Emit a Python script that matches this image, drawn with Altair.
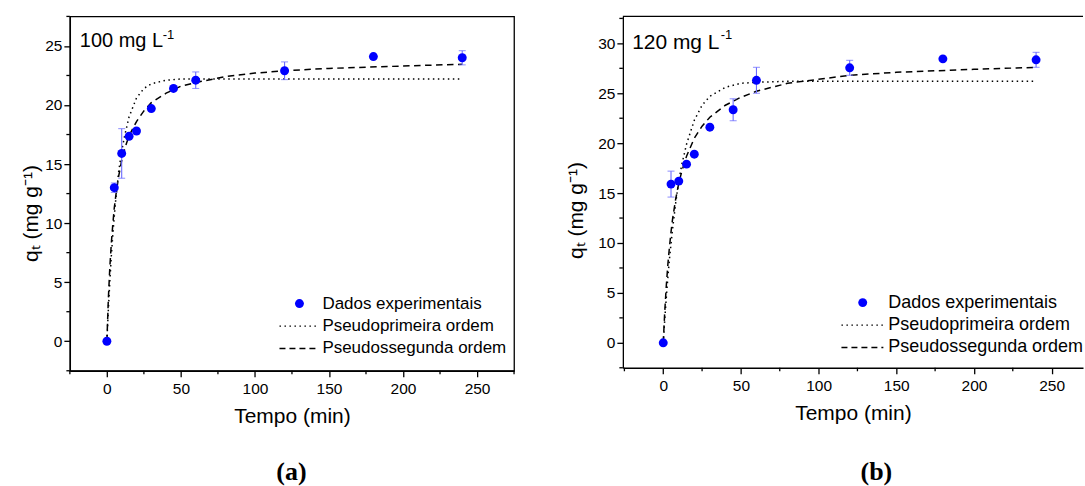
import altair as alt
import pandas as pd

FONT = "Liberation Sans"

# ---------------- data ----------------
t_exp = [0, 5, 10, 15, 20, 30, 45, 60, 120, 180, 240]
qa_exp = [0, 13.0, 15.9, 17.35, 17.8, 19.7, 21.4, 22.1, 22.9, 24.1, 24.0]
qa_err = [0, 0.4, 2.1, 0, 0, 0, 0, 0.7, 0.75, 0, 0.6]
qb_exp = [0, 15.9, 16.2, 17.9, 18.9, 21.6, 23.35, 26.3, 27.55, 28.45, 28.35]
qb_err = [0, 1.3, 0, 0, 0, 0, 1.1, 1.3, 0.75, 0, 0.75]

t_fit = [0, 1, 2, 3, 4, 5, 6, 8, 10, 12, 15, 20, 25, 30, 40, 50, 60, 80, 100, 120, 150, 200, 240]
qa_pfo = [0, 2.7, 5.1, 7.2, 9.0, 10.6, 12.0, 14.4, 16.1, 17.4, 19.0, 20.6, 21.4, 21.8, 22.1, 22.2,
          22.2, 22.2, 22.2, 22.2, 22.2, 22.2, 22.2]
qa_pso = [0, 3.6, 6.3, 8.3, 9.9, 11.3, 12.3, 14.0, 15.3, 16.3, 17.4, 18.6, 19.5, 20.2, 21.0, 21.6,
          21.9, 22.4, 22.7, 22.9, 23.1, 23.3, 23.45]
qb_pfo = [0, 2.4, 4.6, 6.6, 8.4, 9.9, 11.4, 14.0, 16.2, 17.9, 19.9, 22.3, 23.8, 24.7, 25.6, 26.0,
          26.1, 26.2, 26.2, 26.2, 26.2, 26.2, 26.2]
qb_pso = [0, 3.2, 5.8, 7.9, 9.6, 11.1, 12.4, 14.4, 16.0, 17.2, 18.7, 20.5, 21.7, 22.6, 23.8, 24.6,
          25.2, 26.0, 26.4, 26.8, 27.1, 27.4, 27.6]

# tick values
x_major = [0, 50, 100, 150, 200, 250]
x_minor = [-25, 25, 75, 125, 175, 225, 275]
ya_major = [0, 5, 10, 15, 20, 25]
ya_minor = [-2.5, 2.5, 7.5, 12.5, 17.5, 22.5, 27.5]
yb_major = [0, 5, 10, 15, 20, 25, 30]
yb_minor = [-2.5, 2.5, 7.5, 12.5, 17.5, 22.5, 27.5, 32.5]

legend_labels = ["Dados experimentais", "Pseudoprimeira ordem", "Pseudossegunda ordem"]
x_title = "Tempo (min)"
y_title = "qₜ (mg g⁻¹)"
conc_labels = ["100 mg L", "120 mg L"]
panel_letters = ["(a)", "(b)"]


def panel(q_exp, q_err, q_pfo, q_pso, xdom, ydom, ymaj, ymin, W, H, conc, letter, opts):
    df = pd.DataFrame({"t": t_exp, "q": q_exp, "e": q_err})
    df["lo"] = df["q"] - df["e"]
    df["hi"] = df["q"] + df["e"]
    dferr = df[df["e"] > 0]
    dfit = pd.DataFrame({"t": t_fit, "pfo": q_pfo, "pso": q_pso})
    dxm = pd.DataFrame({"t": [v for v in x_minor if xdom[0] <= v <= xdom[1]]})
    dym = pd.DataFrame({"q": [v for v in ymin if ydom[0] <= v <= ydom[1]]})

    xs = alt.Scale(domain=xdom, nice=False, zero=False)
    ys = alt.Scale(domain=ydom, nice=False, zero=False)
    common = dict(grid=False, domainColor="black", domainWidth=1.3, tickColor="black",
                  tickWidth=1.3, tickSize=6, labelFont=FONT, labelFontSize=15.5, labelColor="black",
                  titleFont=FONT, titleFontSize=opts["tfs"], titleFontWeight="normal",
                  titleColor="black", labelFlush=False)
    xaxis = alt.Axis(values=x_major, format="d", labelPadding=5, titlePadding=8, **common)
    yaxis = alt.Axis(values=ymaj, format="d", labelPadding=2, titleAngle=270,
                     titleX=opts["tx"], titleY=opts["ty"],
                     titleAlign="center", titleBaseline="alphabetic", **common)

    pfo = alt.Chart(dfit).mark_line(color="black", strokeWidth=1.5, strokeDash=[1.5, 3.5]).encode(
        x=alt.X("t:Q", scale=xs, axis=xaxis, title=x_title),
        y=alt.Y("pfo:Q", scale=ys, axis=yaxis, title=y_title))
    pso = alt.Chart(dfit).mark_line(color="black", strokeWidth=1.5, strokeDash=[6.5, 4.5]).encode(
        x="t:Q", y="pso:Q")
    err = alt.Chart(dferr).mark_rule(color="#6b6bff", strokeWidth=1.1).encode(
        x="t:Q", y="lo:Q", y2="hi:Q")
    cap_lo = alt.Chart(dferr).mark_tick(color="#6b6bff", orient="horizontal", size=7, thickness=1.1).encode(
        x="t:Q", y="lo:Q")
    cap_hi = alt.Chart(dferr).mark_tick(color="#6b6bff", orient="horizontal", size=7, thickness=1.1).encode(
        x="t:Q", y="hi:Q")
    pts = alt.Chart(df).mark_circle(color="#0000ff", opacity=1, size=80).encode(x="t:Q", y="q:Q")

    # minor ticks
    xmin_t = alt.Chart(dxm).mark_rule(color="black", strokeWidth=1.3).encode(
        x="t:Q", y=alt.value(H), y2=alt.value(H + 3.5))
    ymin_t = alt.Chart(dym).mark_rule(color="black", strokeWidth=1.3).encode(
        y="q:Q", x=alt.value(0), x2=alt.value(-3.5))

    base = alt.Chart(pd.DataFrame({"k": [0]}))
    lx, ly, ltx, lfs, l1, l2, dy = opts["leg"]
    layers = [pfo, pso, err, cap_lo, cap_hi, pts, xmin_t, ymin_t]
    layers.append(base.mark_circle(color="#0000ff", opacity=1, size=80).encode(
        x=alt.value(lx), y=alt.value(ly)))
    for i, lab in enumerate(legend_labels):
        layers.append(base.mark_text(align="left", baseline="middle", font=FONT, fontSize=lfs,
                                     color="black", clip=True).encode(
            x=alt.value(ltx), y=alt.value(ly + i * dy), text=alt.value(lab)))
    layers.append(base.mark_rule(color="black", strokeWidth=1.3, strokeDash=[1.5, 3.5]).encode(
        x=alt.value(l1), x2=alt.value(l2), y=alt.value(ly + dy)))
    layers.append(base.mark_rule(color="black", strokeWidth=1.3, strokeDash=[6, 4]).encode(
        x=alt.value(l1), x2=alt.value(l2), y=alt.value(ly + 2 * dy)))
    ax, ay, sx, sy, afs = opts["ann"]
    layers.append(base.mark_text(align="left", baseline="alphabetic", font=FONT, fontSize=afs,
                                 color="black").encode(
        x=alt.value(ax), y=alt.value(ay), text=alt.value(conc)))
    layers.append(base.mark_text(align="left", baseline="alphabetic", font=FONT, fontSize=13,
                                 color="black").encode(
        x=alt.value(sx), y=alt.value(sy), text=alt.value("-1")))
    px, py = opts["letter"]
    layers.append(base.mark_text(align="center", baseline="alphabetic", font="Liberation Serif",
                                 fontSize=26, fontWeight="bold", color="black").encode(
        x=alt.value(px), y=alt.value(py), text=alt.value(letter)))
    if opts["frame"]:
        view = alt.ViewBackground(stroke="black", strokeWidth=1.3, fill="white")
    else:
        view = alt.ViewBackground(stroke="transparent", fill="white")
        layers.append(base.mark_rule(color="black", strokeWidth=1.3).encode(
            x=alt.value(0), x2=alt.value(W), y=alt.value(0)))
    return alt.layer(*layers).properties(width=W, height=H, view=view)


pa = panel(qa_exp, qa_err, qa_pfo, qa_pso, [-25, 275], [-2.5, 27.5], ya_major, ya_minor, 445, 355,
           conc_labels[0], panel_letters[0],
           dict(tfs=21, tx=-32, ty=197, leg=(230, 287.7, 253, 17, 210, 246.5, 22.5),
                ann=(10, 31, 93, 23, 20), letter=(222, 464), frame=True))
pb = panel(qb_exp, qb_err, qb_pfo, qb_pso, [-26, 270.2], [-2.5, 32.7], yb_major, yb_minor, 461, 352,
           conc_labels[1], panel_letters[1],
           dict(tfs=21, tx=-40, ty=194, leg=(240.3, 286.7, 266, 18, 219, 261, 22.5),
                ann=(9.3, 32.7, 98, 22.7, 21), letter=(254, 464), frame=False))

chart = alt.hconcat(pa, pb, spacing=109, bounds="flush").properties(
    padding={"left": 20, "top": 14, "right": 0, "bottom": 0},
    autosize=alt.AutoSizeParams(type="pad"),
    background="white",
)
chart.save("out.html", embed_options={"renderer": "svg", "actions": False})
